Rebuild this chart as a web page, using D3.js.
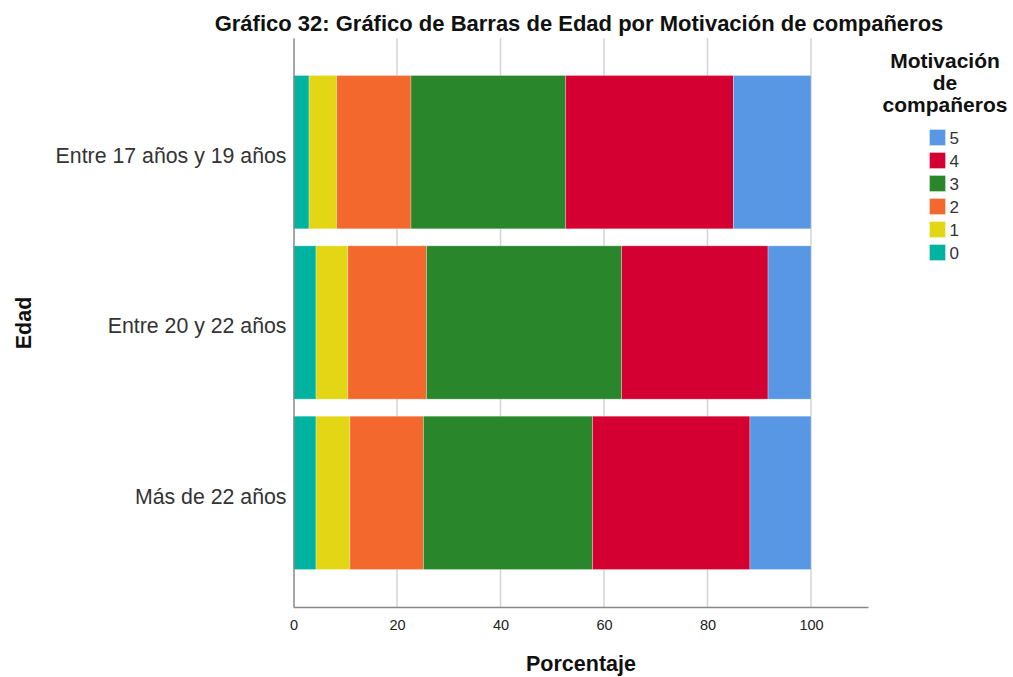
<!DOCTYPE html>
<html><head><meta charset="utf-8">
<script src="https://cdn.jsdelivr.net/npm/d3@7"></script>
<style>body{margin:0;background:#fff;} text{font-family:"Liberation Sans",Arial,sans-serif;}</style>
</head><body><svg id="c" width="1013" height="677"></svg>
<script>
const categories = ["Entre 17 años y 19 años", "Entre 20 y 22 años", "Más de 22 años"];
const seriesKeys = ["0", "1", "2", "3", "4", "5"];
const s0 = [3.0, 4.35, 4.35];
const s1 = [5.35, 6.15, 6.55];
const s2 = [14.35, 15.2, 14.2];
const s3 = [29.9, 37.7, 32.7];
const s4 = [32.4, 28.3, 30.4];
const s5 = [15.0, 8.3, 11.8];
const xTicks = [0, 20, 40, 60, 80, 100];
const colors = ["#00B3A0", "#E3D715", "#F3692D", "#29862A", "#D50032", "#5897E3"];
const legendTitle = ["Motivación", "de", "compañeros"];

(function () {
const seriesVals = [s0, s1, s2, s3, s4, s5];
const table = categories.map((c, i) => {
  const o = {cat: c};
  seriesKeys.forEach((k, j) => o[k] = seriesVals[j][i]);
  return o;
});
const stacked = d3.stack().keys(seriesKeys)(table);

const svg = d3.select("#c");
const mLeft = 293.5, mTop = 38, mBottom = 607;
const x = d3.scaleLinear().domain([0, 111]).range([mLeft, mLeft + 5.175 * 111]);
const y = d3.scaleBand().domain(categories).range([mTop, mBottom]).paddingInner(0.1).paddingOuter(0.22);
const color = d3.scaleOrdinal().domain(seriesKeys).range(colors);

// gridlines
svg.append("g").selectAll("line").data(xTicks.filter(d => d > 0)).join("line")
  .attr("x1", d => x(d)).attr("x2", d => x(d)).attr("y1", mTop).attr("y2", mBottom)
  .attr("stroke", "#d4d4d4").attr("stroke-width", 1.5);

// bars
svg.append("g").selectAll("g").data(stacked).join("g")
  .attr("fill", d => color(d.key))
  .selectAll("rect").data(d => d).join("rect")
  .attr("x", d => x(d[0])).attr("width", d => x(d[1]) - x(d[0]))
  .attr("y", d => y(d.data.cat)).attr("height", y.bandwidth())
  .attr("stroke", "rgba(255,255,255,0.35)").attr("stroke-width", 0.8);

// axes
const xAxis = svg.append("g").attr("transform", `translate(0,${mBottom})`)
  .call(d3.axisBottom(x).tickValues(xTicks).tickSize(0).tickPadding(13));
xAxis.select(".domain").attr("stroke", "#888").attr("stroke-width", 1.5);
xAxis.selectAll("text").attr("font-size", 14.5).attr("fill", "#222");

const yAxis = svg.append("g").attr("transform", `translate(${mLeft},0)`)
  .call(d3.axisLeft(y).tickSize(0).tickPadding(7));
yAxis.select(".domain").attr("stroke", "#888").attr("stroke-width", 1.5);
yAxis.selectAll("text").attr("font-size", 21.3).attr("fill", "#333").attr("dy", "0.5em");

// titles
svg.append("text").attr("x", 579).attr("y", 31).attr("text-anchor", "middle")
  .attr("font-size", 22).attr("font-weight", "bold").attr("fill", "#111")
  .text("Gráfico 32: Gráfico de Barras de Edad por Motivación de compañeros");
svg.append("text").attr("x", 581).attr("y", 671).attr("text-anchor", "middle")
  .attr("font-size", 21.5).attr("font-weight", "bold").attr("fill", "#111").text("Porcentaje");
svg.append("text").attr("transform", "translate(31,323) rotate(-90)").attr("text-anchor", "middle")
  .attr("font-size", 21.5).attr("font-weight", "bold").attr("fill", "#111").text("Edad");

// legend
const lg = svg.append("g");
lg.selectAll("text.t").data(legendTitle).join("text").attr("class", "t")
  .attr("x", 945).attr("y", (d, i) => 68 + i * 22).attr("text-anchor", "middle")
  .attr("font-size", 21).attr("font-weight", "bold").attr("fill", "#111").text(d => d);
const items = seriesKeys.slice().reverse();
const li = lg.selectAll("g.i").data(items).join("g").attr("class", "i")
  .attr("transform", (d, i) => `translate(929.5,${129.5 + i * 23})`);
li.append("rect").attr("width", 16).attr("height", 16).attr("fill", d => color(d))
  .attr("stroke", "rgba(255,255,255,0.4)").attr("stroke-width", 0.8);
li.append("text").attr("x", 20).attr("y", 14).attr("font-size", 17).attr("fill", "#333").text(d => d);
})();
</script></body></html>
